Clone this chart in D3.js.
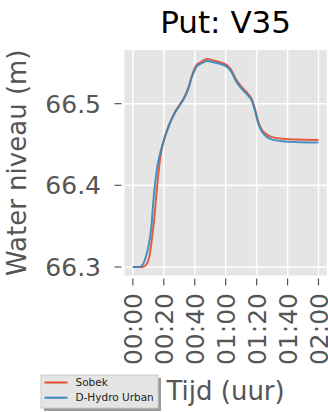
<!DOCTYPE html>
<html>
<head>
<meta charset="utf-8">
<script src="https://cdn.jsdelivr.net/npm/d3@7"></script>
<style>
  body { margin: 0; background: #fff; }
  text { font-family: "DejaVu Sans", sans-serif; }
</style>
</head>
<body>
<div id="chart"></div>
<script>
// time in minutes since start
var timeSobek = [0, 6, 7.5, 9, 10, 11, 12, 13, 14, 15, 16, 17, 18, 19, 20, 22, 24, 27, 30, 33, 36, 38, 39.5, 41, 44, 48, 52, 56, 60, 62, 64, 66, 68, 71, 74, 77, 79, 81, 83, 86, 90, 97, 105, 120];
var sobek = [66.300, 66.300, 66.301, 66.304, 66.308, 66.316, 66.330, 66.345, 66.362, 66.385, 66.405, 66.423, 66.437, 66.447, 66.455, 66.467, 66.477, 66.489, 66.498, 66.507, 66.520, 66.533, 66.541, 66.547, 66.551, 66.5547, 66.553, 66.551, 66.548, 66.545, 66.540, 66.532, 66.526, 66.519, 66.513, 66.505, 66.493, 66.478, 66.469, 66.463, 66.459, 66.457, 66.456, 66.4556];

var timeDhydro = [0, 4, 6, 8, 10, 12, 13, 14, 15, 16, 17, 18, 20, 22, 24, 27, 30, 33, 36, 38, 39.5, 41, 44, 48, 52, 56, 60, 62, 64, 66, 68, 71, 74, 77, 79, 81, 83, 86, 90, 97, 105, 120];
var dhydro = [66.300, 66.300, 66.302, 66.310, 66.3245, 66.350, 66.375, 66.396, 66.412, 66.425, 66.434, 66.442, 66.455, 66.466, 66.476, 66.488, 66.497, 66.506, 66.519, 66.532, 66.539, 66.545, 66.549, 66.5523, 66.5506, 66.549, 66.546, 66.543, 66.538, 66.530, 66.524, 66.517, 66.511, 66.503, 66.491, 66.476, 66.467, 66.460, 66.456, 66.454, 66.453, 66.4523];

var xTicks = [0, 20, 40, 60, 80, 100, 120];
var xTickLabels = ["00:00", "00:20", "00:40", "01:00", "01:20", "01:40", "02:00"];
var yTicks = [66.3, 66.4, 66.5];

var seriesNames = ["Sobek", "D-Hydro Urban"];
var seriesColors = ["#E24A33", "#348ABD"];

var W = 328, H = 412;
var plot = {left: 124.5, right: 326.7, top: 50, bottom: 275.5};

var svg = d3.select("#chart").append("svg")
    .attr("width", W)
    .attr("height", H);

var x = d3.scaleLinear().domain([-5.4, 125.3]).range([plot.left, plot.right]);
var y = d3.scaleLinear().domain([66.2896, 66.5657]).range([plot.bottom, plot.top]);

// background
svg.append("rect")
    .attr("x", plot.left).attr("y", plot.top)
    .attr("width", plot.right - plot.left)
    .attr("height", plot.bottom - plot.top)
    .attr("fill", "#E5E5E5");

// grid
svg.selectAll(".vgrid").data(xTicks).enter().append("line")
    .attr("x1", d => x(d)).attr("x2", d => x(d))
    .attr("y1", plot.top).attr("y2", plot.bottom)
    .attr("stroke", "#fff").attr("stroke-width", 1.5);
svg.selectAll(".hgrid").data(yTicks).enter().append("line")
    .attr("x1", plot.left).attr("x2", plot.right)
    .attr("y1", d => y(d)).attr("y2", d => y(d))
    .attr("stroke", "#fff").attr("stroke-width", 1.5);

// lines
var line = d3.line().x(d => x(d[0])).y(d => y(d[1])).curve(d3.curveMonotoneX);
var series = [d3.zip(timeSobek, sobek), d3.zip(timeDhydro, dhydro)];
svg.selectAll(".series").data(series).enter().append("path")
    .attr("d", line)
    .attr("fill", "none")
    .attr("stroke", (d, i) => seriesColors[i])
    .attr("stroke-width", 2)
    .attr("stroke-opacity", 0.9);

// y axis ticks
var yg = svg.selectAll(".ytick").data(yTicks).enter().append("g")
    .attr("transform", d => "translate(0," + y(d) + ")");
yg.append("line")
    .attr("x1", 114.5).attr("x2", 121.5)
    .attr("stroke", "#555").attr("stroke-width", 1.2);
yg.append("text")
    .attr("x", 101)
    .attr("dy", "0.36em")
    .attr("text-anchor", "end")
    .attr("font-size", 25)
    .attr("fill", "#555")
    .text(d => d3.format(".1f")(d));

// x axis ticks
var xg = svg.selectAll(".xtick").data(xTicks).enter().append("g")
    .attr("transform", d => "translate(" + x(d) + ",0)");
xg.append("line")
    .attr("y1", 278.5).attr("y2", 285.5)
    .attr("stroke", "#555").attr("stroke-width", 1.2);
xg.append("text")
    .attr("transform", "translate(0,293) rotate(-90)")
    .attr("dy", "0.36em")
    .attr("text-anchor", "end")
    .attr("font-size", 25)
    .attr("fill", "#555")
    .text((d, i) => xTickLabels[i]);

// axis labels
svg.append("text")
    .attr("x", (plot.left + plot.right) / 2)
    .attr("y", 400)
    .attr("text-anchor", "middle")
    .attr("font-size", 26)
    .attr("fill", "#555")
    .text("Tijd (uur)");
svg.append("text")
    .attr("transform", "translate(26," + (plot.top + plot.bottom) / 2 + ") rotate(-90)")
    .attr("text-anchor", "middle")
    .attr("font-size", 26)
    .attr("fill", "#555")
    .text("Water niveau (m)");

// title
svg.append("text")
    .attr("x", (plot.left + plot.right) / 2)
    .attr("y", 33)
    .attr("text-anchor", "middle")
    .attr("font-size", 31)
    .attr("fill", "#000")
    .text("Put: V35");

// legend
var lg = svg.append("g").attr("transform", "translate(41,375)");
lg.append("rect")
    .attr("x", 3).attr("y", 3).attr("width", 117).attr("height", 33)
    .attr("fill", "#999");
lg.append("rect")
    .attr("x", 0).attr("y", 0).attr("width", 117).attr("height", 33)
    .attr("fill", "#E5E5E5").attr("stroke", "#ccc").attr("stroke-width", 1);
var li = lg.selectAll(".item").data(seriesNames).enter().append("g")
    .attr("transform", (d, i) => "translate(0," + (7.5 + i * 15.2) + ")");
li.append("line")
    .attr("x1", 3.5).attr("x2", 26.5)
    .attr("stroke", (d, i) => seriesColors[i]).attr("stroke-width", 2);
li.append("text")
    .attr("x", 34.5).attr("dy", "0.36em")
    .attr("font-size", 10.5)
    .attr("fill", "#222")
    .text(d => d);
</script>
</body>
</html>
